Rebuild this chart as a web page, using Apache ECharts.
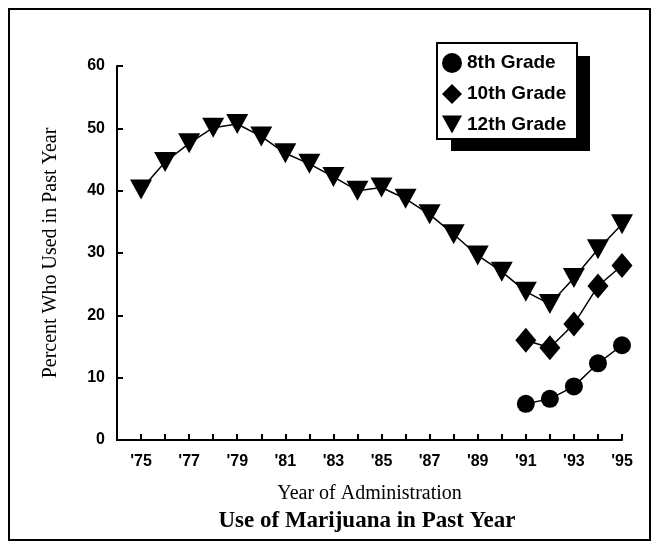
<!DOCTYPE html>
<html>
<head>
<meta charset="utf-8">
<script src="https://cdn.jsdelivr.net/npm/echarts@6/dist/echarts.min.js"></script>
<style>
html, body { margin: 0; padding: 0; background: #fff; }
#chart { width: 657px; height: 547px; }
</style>
</head>
<body>
<div id="chart"></div>
<script>
// 年份（横轴）
var years12 = [75, 76, 77, 78, 79, 80, 81, 82, 83, 84, 85, 86, 87, 88, 89, 90, 91, 92, 93, 94, 95];
var grade12 = [40.2, 44.6, 47.6, 50.1, 50.7, 48.7, 46.0, 44.3, 42.2, 40.0, 40.5, 38.7, 36.2, 33.0, 29.6, 27.0, 23.8, 21.8, 26.0, 30.6, 34.6];
var yearsLater = [91, 92, 93, 94, 95];
var grade10 = [16.0, 14.8, 18.6, 24.7, 28.0];
var grade8 = [5.8, 6.6, 8.6, 12.3, 15.2];
var oddYearLabels = [75, 77, 79, 81, 83, 85, 87, 89, 91, 93, 95];

var triPath = 'path://M0,0 L10,0 L5,9 Z';

function pairs(xs, ys) {
	var ret = [];
	for (var i = 0; i < xs.length; i++) {
		ret.push([xs[i], ys[i]]);
	}
	return ret;
}

var myChart = echarts.init(document.getElementById('chart'));
var option = {
	backgroundColor: '#fff',
	animation: false,
	grid: {
		left: 117,
		right: 35,
		top: 66,
		bottom: 107,
		containLabel: false
	},
	legend: {
		orient: 'vertical',
		left: 442,
		top: 53,
		itemWidth: 20,
		itemHeight: 20,
		itemGap: 11,
		padding: 0,
		textStyle: {
			color: '#000',
			fontFamily: 'Liberation Sans, Arial, sans-serif',
			fontWeight: 'bold',
			fontSize: 19
		},
		data: [
			{ name: '8th Grade', icon: 'circle' },
			{ name: '10th Grade', icon: 'diamond' },
			{ name: '12th Grade', icon: triPath }
		]
	},
	xAxis: {
		type: 'value',
		min: 74,
		max: 95,
		interval: 1,
		name: 'Year of Administration',
		nameLocation: 'middle',
		nameGap: 44,
		nameTextStyle: {
			color: '#000',
			fontFamily: 'Liberation Serif, Times New Roman, serif',
			fontSize: 20
		},
		axisLine: { lineStyle: { color: '#000', width: 2 } },
		axisTick: { inside: true, length: 6, lineStyle: { color: '#000', width: 2 } },
		splitLine: { show: false },
		axisLabel: {
			color: '#000',
			fontFamily: 'Liberation Sans, Arial, sans-serif',
			fontWeight: 'bold',
			fontSize: 16,
			margin: 14,
			formatter: function(v) {
				if (oddYearLabels.indexOf(v) != -1) {
					return "'" + v;
				}
				return '';
			}
		}
	},
	yAxis: {
		type: 'value',
		min: 0,
		max: 60,
		interval: 10,
		name: 'Percent Who Used in Past Year',
		nameLocation: 'middle',
		nameGap: 56,
		nameTextStyle: {
			color: '#000',
			fontFamily: 'Liberation Serif, Times New Roman, serif',
			fontSize: 20
		},
		axisLine: { show: true, lineStyle: { color: '#000', width: 2 } },
		axisTick: { show: true, inside: true, length: 6, lineStyle: { color: '#000', width: 2 } },
		splitLine: { show: false },
		axisLabel: {
			color: '#000',
			fontFamily: 'Liberation Sans, Arial, sans-serif',
			fontWeight: 'bold',
			fontSize: 16,
			margin: 12
		}
	},
	graphic: [
		{
			type: 'rect',
			z: -10,
			shape: { x: 9, y: 9, width: 641, height: 531 },
			style: { fill: 'none', stroke: '#000', lineWidth: 2 }
		},
		{
			type: 'rect',
			z: -10,
			shape: { x: 451, y: 56, width: 139, height: 95 },
			style: { fill: '#000' }
		},
		{
			type: 'rect',
			z: -9,
			shape: { x: 437, y: 43, width: 140, height: 96 },
			style: { fill: '#fff', stroke: '#000', lineWidth: 2 }
		},
		{
			type: 'text',
			x: 367,
			y: 521,
			style: {
				text: 'Use of Marijuana in Past Year',
				fill: '#000',
				font: 'bold 23px "Liberation Serif", "Times New Roman", serif',
				align: 'center',
				verticalAlign: 'middle'
			}
		}
	],
	series: [
		{
			name: '8th Grade',
			type: 'line',
			data: pairs(yearsLater, grade8),
			symbol: 'circle',
			symbolSize: 18,
			itemStyle: { color: '#000' },
			lineStyle: { color: '#000', width: 1.5 }
		},
		{
			name: '10th Grade',
			type: 'line',
			data: pairs(yearsLater, grade10),
			symbol: 'diamond',
			symbolSize: [21, 25],
			itemStyle: { color: '#000' },
			lineStyle: { color: '#000', width: 1.5 }
		},
		{
			name: '12th Grade',
			type: 'line',
			data: pairs(years12, grade12),
			symbol: triPath,
			symbolSize: [22, 20],
			itemStyle: { color: '#000' },
			lineStyle: { color: '#000', width: 1.5 }
		}
	]
};
myChart.setOption(option);
</script>
</body>
</html>
